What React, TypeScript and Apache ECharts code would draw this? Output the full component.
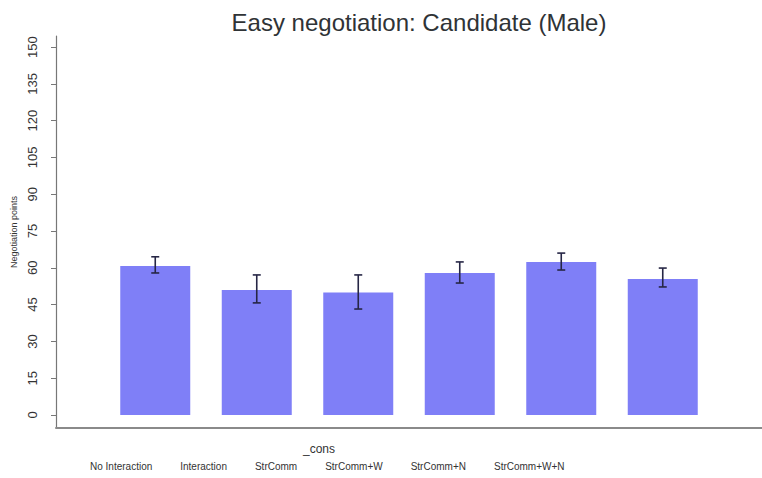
import React, { useEffect, useRef } from "react";
import * as echarts from "echarts";

const categories = ["No Interaction", "Interaction", "StrComm", "StrComm+W", "StrComm+N", "StrComm+W+N"];
const means = [60.7, 51.0, 49.9, 57.9, 62.4, 55.4];
const ciLow = [57.9, 45.7, 43.2, 53.8, 59.1, 52.2];
const ciHigh = [64.5, 57.1, 57.1, 62.4, 66.0, 59.9];
const yTicks = [0, 15, 30, 45, 60, 75, 90, 105, 120, 135, 150];
const groupLabel = ["_cons"];

const BAR_W = 70;
const GAP = 0.45;
const BAR_COLOR = "#7f7ff7";
const FONT = "Liberation Sans, Arial, sans-serif";

export default function App() {
  const ref = useRef<HTMLDivElement>(null);
  useEffect(() => {
    if (!ref.current) return;
    document.body.style.margin = "0";
    document.body.style.overflow = "hidden";
    const chart = echarts.init(ref.current, undefined, { renderer: "svg" });
    const n = categories.length;
    const barSeries = categories.map((name, i) => ({
      type: "bar",
      name,
      data: [means[i]],
      barWidth: BAR_W,
      barGap: GAP * 100 + "%",
      itemStyle: { color: BAR_COLOR },
      emphasis: { disabled: true },
    }));
    const errSeries = {
      type: "custom",
      encode: { x: 0, y: [1, 2] },
      data: categories.map((_, i) => [0, ciLow[i], ciHigh[i], i]),
      z: 10,
      renderItem: (params: any, api: any) => {
        const lo = api.coord([api.value(0), api.value(1)]);
        const hi = api.coord([api.value(0), api.value(2)]);
        const idx = api.value(3);
        const x = lo[0] + (idx - (n - 1) / 2) * BAR_W * (1 + GAP);
        const cap = 4;
        const style = { stroke: "#262645", lineWidth: 1.6 };
        return {
          type: "group",
          children: [
            { type: "line", shape: { x1: x, y1: lo[1], x2: x, y2: hi[1] }, style },
            { type: "line", shape: { x1: x - cap, y1: lo[1], x2: x + cap, y2: lo[1] }, style },
            { type: "line", shape: { x1: x - cap, y1: hi[1], x2: x + cap, y2: hi[1] }, style },
          ],
        };
      },
    };
    chart.setOption({
      animation: false,
      backgroundColor: "#ffffff",
      title: {
        text: "Easy negotiation: Candidate (Male)",
        left: 414,
        textAlign: "center",
        top: 5,
        textStyle: { fontFamily: FONT, fontSize: 24, fontWeight: "normal", color: "#2f3336" },
      },
      legend: {
        data: categories,
        left: 80,
        top: 456,
        itemWidth: 0,
        itemHeight: 0,
        itemGap: 23,
        selectedMode: false,
        textStyle: { fontFamily: FONT, fontSize: 10, color: "#333" },
      },
      grid: { left: 56, right: 0, top: 36, bottom: 50, containLabel: false },
      xAxis: {
        type: "category",
        data: groupLabel,
        axisLine: { show: true, onZero: false, lineStyle: { color: "#8a8a8a", width: 2 } },
        axisTick: { show: false },
        axisLabel: { show: false },
        name: groupLabel[0],
        nameLocation: "middle",
        nameGap: 15,
        nameTextStyle: { fontFamily: FONT, fontSize: 12, color: "#333", padding: [0, 180, 0, 0] },
      },
      yAxis: {
        type: "value",
        min: -5.3,
        max: 154.5,
        name: "Negotiation points",
        nameLocation: "middle",
        nameGap: 38,
        nameTextStyle: { fontFamily: FONT, fontSize: 9, color: "#333" },
        axisLine: { show: true, lineStyle: { color: "#777", width: 1.2 } },
        axisTick: { show: true, customValues: yTicks, length: 5, lineStyle: { color: "#777" } },
        axisLabel: {
          customValues: yTicks,
          rotate: 90,
          margin: 17,
          fontFamily: FONT,
          fontSize: 13,
          color: "#333",
        },
        splitLine: { show: false },
      },
      series: [...barSeries, errSeries],
    });
    return () => chart.dispose();
  }, []);
  return <div ref={ref} style={{ width: 762, height: 478, background: "#fff" }} />;
}
